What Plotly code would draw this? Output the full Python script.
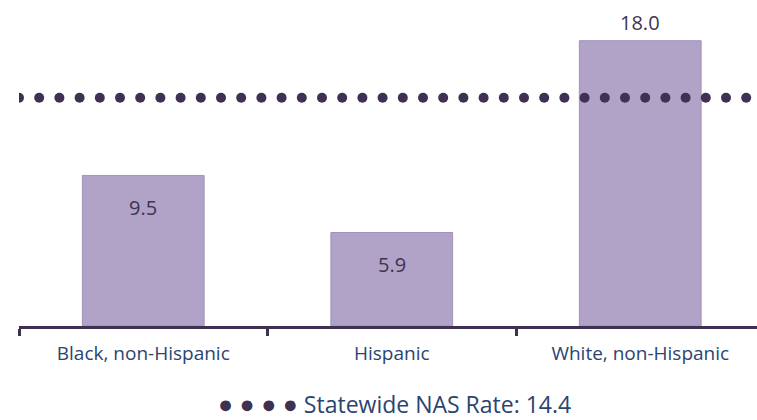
import numpy as np
import plotly.graph_objects as go

categories = ["Black, non-Hispanic", "Hispanic", "White, non-Hispanic"]
rates = [9.5, 5.9, 18.0]
statewide_rate = 14.4
statewide_label = "Statewide NAS Rate"

W, H = 757, 420
ML, MR, MT, MB = 19, 0, 9, 94
plot_w = W - ML - MR
plot_h = H - MT - MB
cat_px = 248.5

bar_color = "#B1A2C8"
dot_color = "#3F3152"
text_color = "#3D3550"
cat_color = "#2B4470"
axis_color = "#3F3152"

fig = go.Figure()
fig.add_trace(go.Bar(
    x=categories, y=rates,
    marker=dict(color=bar_color, line=dict(color="#A192BB", width=1)),
    width=0.49, hoverinfo="skip", showlegend=False,
))

# statewide dotted reference line (dots as markers on a pixel-scaled overlay axis)
dot_spacing = 20.2
dot_x = np.arange(0, plot_w + 1, dot_spacing)
fig.add_trace(go.Scatter(
    x=dot_x, y=[statewide_rate] * len(dot_x), xaxis="x2",
    mode="markers", marker=dict(color=dot_color, size=10),
    hoverinfo="skip", showlegend=False, cliponaxis=True,
))

# value labels
for c, v in zip(categories, rates):
    if v > statewide_rate:
        fig.add_annotation(x=c, y=v, text=f"{v:.1f}", showarrow=False,
                           yanchor="bottom", yshift=3,
                           font=dict(size=20, color=text_color, family="Open Sans"))
    else:
        fig.add_annotation(x=c, y=v, text=f"{v:.1f}", showarrow=False,
                           yanchor="middle", yshift=-32,
                           font=dict(size=20, color=text_color, family="Open Sans"))

# legend as annotation
fig.add_annotation(
    xref="paper", yref="paper", x=(394 - ML) / plot_w, y=-(403 - (H - MB)) / plot_h,
    text=(f"<span style='color:{dot_color};font-size:25px'>● ● ● ●</span> "
          f"{statewide_label}: {statewide_rate:.1f}"),
    showarrow=False, xanchor="center", yanchor="middle",
    font=dict(size=23, color=cat_color, family="Open Sans"),
)

x_max = -0.5 + plot_w / cat_px
fig.update_layout(
    width=W, height=H,
    margin=dict(l=ML, r=MR, t=MT, b=MB),
    paper_bgcolor="white", plot_bgcolor="white",
    bargap=0.51,
    xaxis=dict(
        type="category", range=[-0.5, x_max],
        showline=True, linecolor=axis_color, linewidth=3,
        ticks="outside", tickson="boundaries", ticklen=7, tickwidth=3, tickcolor=axis_color,
        ticklabelstandoff=8,
        tickfont=dict(size=19, color=cat_color, family="Open Sans"),
        showgrid=False, zeroline=False, fixedrange=True,
    ),
    xaxis2=dict(
        overlaying="x", range=[0, plot_w], visible=False, fixedrange=True,
    ),
    yaxis=dict(range=[0, 20], visible=False, showgrid=False, zeroline=False, fixedrange=True),
    font=dict(family="Open Sans"),
)

fig.write_html(
    "out.html",
    config={"displayModeBar": False},
    post_script="document.body.style.margin='0';document.body.style.overflow='hidden';",
)
